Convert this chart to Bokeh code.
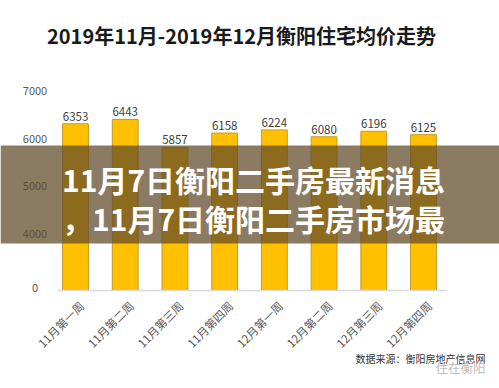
from math import pi
from bokeh.plotting import figure
from bokeh.models import ColumnDataSource, Range1d, BoxAnnotation, Label
from bokeh.core.properties import value
from bokeh.embed import file_html
from bokeh.resources import INLINE

categories = ["11月第一周", "11月第二周", "11月第三周", "11月第四周",
              "12月第一周", "12月第二周", "12月第三周", "12月第四周"]
prices = [6353, 6443, 5857, 6158, 6224, 6080, 6196, 6125]
tick_values = [0, 4000, 5000, 6000, 7000]
tick_labels = ["0", "4000", "5000", "6000", "7000"]
title_text = "2019年11月-2019年12月衡阳住宅均价走势"
banner_lines = ["11月7日衡阳二手房最新消息", "，11月7日衡阳二手房市场最"]
source_text = "数据来源：衡阳房地产信息网"
watermark_text = "住在衡阳"

FONT = "Noto Sans CJK SC"
BASE = -0.14  # broken axis: 0 sits a little more than one step below 4000


def disp(v):
    return BASE if v == 0 else (v - 4000) / 1000 + 1


n = len(categories)
xs = [i + 0.5 for i in range(n)]

bars = ColumnDataSource(dict(
    x=xs,
    top=[disp(v) for v in prices],
    label=[str(v) for v in prices],
    cat=categories,
    base=[BASE] * n,
))
yticks = ColumnDataSource(dict(
    x=[-0.315] * len(tick_values),
    y=[disp(v) for v in tick_values],
    text=tick_labels,
))

# frame covers the whole canvas so that the overlay banner can span it
p = figure(width=499, height=388, x_range=Range1d(-1.009, 9.029),
           y_range=Range1d(-2.197, 5.937), output_backend="svg", toolbar_location=None,
           x_axis_location=None, y_axis_location=None, min_border=0)
p.outline_line_color = None
p.grid.visible = False
p.background_fill_color = "white"
p.border_fill_color = "white"

# bars and value labels
p.vbar(x="x", top="top", bottom=BASE, width=0.52, source=bars,
       fill_color="#FFC000", line_color="#C29B2E", line_width=1)
p.text(x="x", y="top", text="label", source=bars, text_align="center",
       text_baseline="bottom", y_offset=-3, text_font_size="11.5px",
       text_color="#404040", text_font=value(FONT))

# category axis: baseline and rotated labels
p.segment(x0=0.14, y0=BASE, x1=n - 0.02, y1=BASE, line_color="#D9D9D9", line_width=1.5)
p.text(x="x", y="base", text="cat", source=bars, angle=pi / 4, text_align="right",
       text_baseline="middle", x_offset=6, y_offset=13, text_font_size="11.5px",
       text_color="#595959", text_font=value(FONT))

# value axis (broken scale) labels
p.text(x="x", y="y", text="text", source=yticks, text_align="center",
       text_baseline="middle", y_offset=-2, text_font_size="11px",
       text_color="#595959", text_font=value(FONT))

# title
p.add_layout(Label(x=3.839, y=5.203, text=title_text, text_align="center",
                   text_baseline="middle", text_font=FONT, text_font_size="20px",
                   text_font_style="bold", text_color="#1A1A1A"))

# source note
p.add_layout(Label(x=8.748, y=-1.568, text=source_text, text_align="right",
                   text_baseline="middle", text_font=FONT, text_font_size="10px",
                   text_color="#333333"))
p.add_layout(Label(x=8.748, y=-1.757, text=watermark_text, text_align="right",
                   text_baseline="middle", text_font=FONT, text_font_size="12.5px",
                   text_color="#BDBDBD"))

# overlay banner
p.add_layout(BoxAnnotation(top=2.897, bottom=0.843, fill_color="#614A29", fill_alpha=0.73,
                           line_alpha=0))
for y, line in zip([2.205, 1.367], banner_lines):
    p.add_layout(Label(x=4.081, y=y, text=line, text_align="center", text_baseline="middle",
                       text_font=FONT, text_font_size="30px", text_font_style="bold",
                       text_color="white"))

open("out.html", "w").write(file_html(p, INLINE))
